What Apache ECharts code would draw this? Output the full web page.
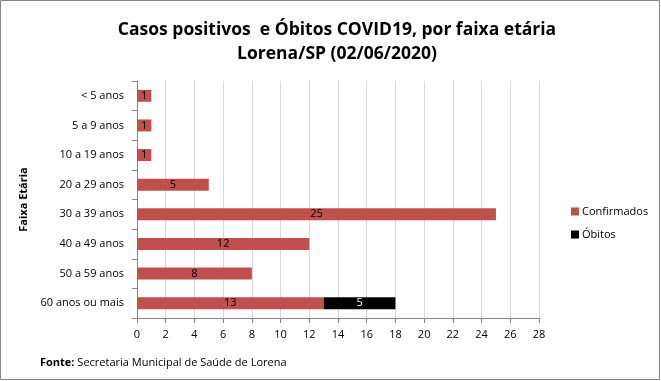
<!DOCTYPE html>
<html><head><meta charset="utf-8">
<script src="https://cdn.jsdelivr.net/npm/echarts@6/dist/echarts.min.js"></script>
<style>html,body{margin:0;padding:0;background:#fff}#c{width:661px;height:381px}</style>
</head><body><div id="c"></div>
<script>
var categories = ['< 5 anos','5 a 9 anos','10 a 19 anos','20 a 29 anos','30 a 39 anos','40 a 49 anos','50 a 59 anos','60 anos ou mais'];
var confirmados = [1,1,1,5,25,12,8,13];
var obitos = [null,null,null,null,null,null,null,5];
var xTicks = {min:0, max:28, interval:2};
var titleText = 'Casos positivos  e Óbitos COVID19, por faixa etária\nLorena/SP (02/06/2020)';

var font = '"Open Sans", "Liberation Sans", sans-serif';
var chart = echarts.init(document.getElementById('c'));
chart.setOption({
  animation:false,
  backgroundColor:'#fff',
  textStyle:{fontFamily:font},
  legend:{
    orient:'vertical', left:566, top:201, itemWidth:8, itemHeight:8, itemGap:12,
    icon:'rect',
    textStyle:{fontSize:11, color:'#000', fontFamily:font, padding:[0,0,0,-2]},
    data:['Confirmados','Óbitos']
  },
  grid:{left:137, right:122, top:81, bottom:63},
  xAxis:{
    type:'value', min:xTicks.min, max:xTicks.max, interval:xTicks.interval,
    axisLine:{show:true, lineStyle:{color:'#868686'}},
    axisTick:{show:true, length:5, lineStyle:{color:'#868686'}},
    axisLabel:{fontSize:11, color:'#000', margin:11},
    splitLine:{show:true, lineStyle:{color:'#d9d9d9'}}
  },
  yAxis:{
    type:'category', data:categories, inverse:true,
    name:'Faixa Etária', nameLocation:'middle', nameGap:101, nameRotate:90,
    nameTextStyle:{fontSize:11, fontWeight:'bold', color:'#000'},
    axisLine:{show:true, lineStyle:{color:'#868686'}},
    axisTick:{show:true, length:5, inside:false, lineStyle:{color:'#868686'}},
    axisLabel:{fontSize:11, color:'#000', margin:13}
  },
  series:[
    {name:'Confirmados', type:'bar', stack:'a', data:confirmados, barWidth:12,
     itemStyle:{color:'#c0504d'},
     label:{show:true, position:'inside', color:'#000', fontSize:11}},
    {name:'Óbitos', type:'bar', stack:'a', data:obitos, barWidth:12,
     itemStyle:{color:'#000'},
     label:{show:true, position:'inside', color:'#fff', fontSize:11}}
  ],
  graphic:[
    {type:'rect', shape:{x:0.5,y:0.5,width:659,height:379}, style:{fill:null, stroke:'#868686', lineWidth:1}, silent:true},
    {type:'text', x:337, y:18, style:{
      text:titleText, align:'center', verticalAlign:'top',
      fontSize:17.5, fontWeight:'bold', fontFamily:font, fill:'#000', lineHeight:24}},
    {type:'text', left:40, top:357, style:{
      text:'{b|Fonte:} Secretaria Municipal de Saúde de Lorena',
      rich:{b:{fontWeight:'bold', fontSize:11, fontFamily:font, fill:'#000'}},
      fontSize:11, fontFamily:font, fill:'#000'}}
  ]
});
</script></body></html>
